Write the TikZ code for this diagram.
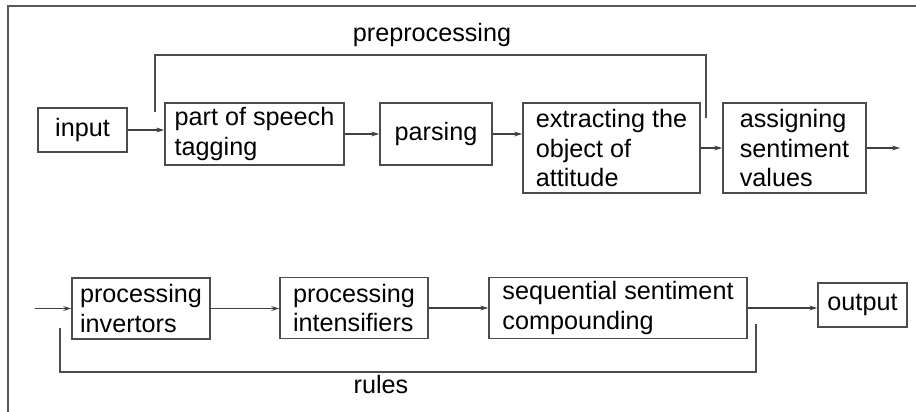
\documentclass[tikz,border=0pt]{standalone}
\usepackage{fontspec}
\setmainfont{Liberation Sans}
\usetikzlibrary{arrows.meta}

\tikzset{
  stage/.style={draw=black!70, line width=0.7pt, align=left, inner sep=2pt},
  flow/.style={draw=black!75, line width=0.7pt, -{Stealth[length=4pt,width=2.4pt]}},
  bracket/.style={draw=black!70, line width=0.7pt}
}

\begin{document}
\begin{tikzpicture}[x=0.5pt,y=-0.5pt,font=\fontsize{12.6}{14.7}\selectfont]
        \useasboundingbox (0,0) rectangle (916,412);
        \draw[black!65,line width=0.8pt] (8,412) -- (8,6) -- (916,6);

        % first row
        \node[stage,minimum width=44.5pt,minimum height=22pt] (input) at (82.5,130) {input};
        \node[stage,minimum width=89.5pt,minimum height=31pt] (pos) at (254.5,134) {part of speech\\tagging};
        \node[stage,minimum width=56pt,minimum height=31pt] (parsing) at (436,134) {parsing};
        \node[stage,minimum width=88.5pt,minimum height=45pt] (extract) at (611.5,148) {extracting the\\object of\\attitude};
        \node[stage,minimum width=71.5pt,minimum height=45pt] (assign) at (794.5,148) {assigning\\sentiment\\values};
        \coordinate (out1) at (900,148);

        \draw[flow] (input.east) -- (input.east -| pos.west);
        \draw[flow] (pos.east) -- (parsing.west);
        \draw[flow] (parsing.east) -- (parsing.east -| extract.west);
        \draw[flow] (extract.east) -- (assign.west);
        \draw[flow] (assign.east) -- (out1);

        \coordinate (pre1) at (155,112);
        \coordinate (pre2) at (706,118);
        \draw[bracket] (pre1) -- (155,55) -- (706,55) -- (pre2);
        \node[anchor=base] (pretext) at (432,41) {preprocessing};

        % second row
        \coordinate (in2) at (35,308.5);
        \node[stage,minimum width=69pt,minimum height=30.5pt] (invert) at (141,308.5) {processing\\invertors};
        \node[stage,minimum width=74pt,minimum height=30.5pt] (intens) at (354,308) {processing\\intensifiers};
        \node[stage,minimum width=129pt,minimum height=30pt] (seqcomp) at (618,308) {sequential sentiment\\compounding};
        \node[stage,minimum width=44.5pt,minimum height=22pt] (output) at (862.5,305) {output};

        \draw[flow] (in2) -- (invert.west);
        \draw[flow] (invert.east) -- (invert.east -| intens.west);
        \draw[flow] (intens.east) -- (intens.east -| seqcomp.west);
        \draw[flow] (seqcomp.east) -- (seqcomp.east -| output.west);

        \coordinate (rul1) at (60,328);
        \coordinate (rul2) at (756,324);
        \draw[bracket] (rul1) -- (60,372) -- (756,372) -- (rul2);
        \node[anchor=base] (rultext) at (381,393) {rules};
    \end{tikzpicture}
\end{document}
